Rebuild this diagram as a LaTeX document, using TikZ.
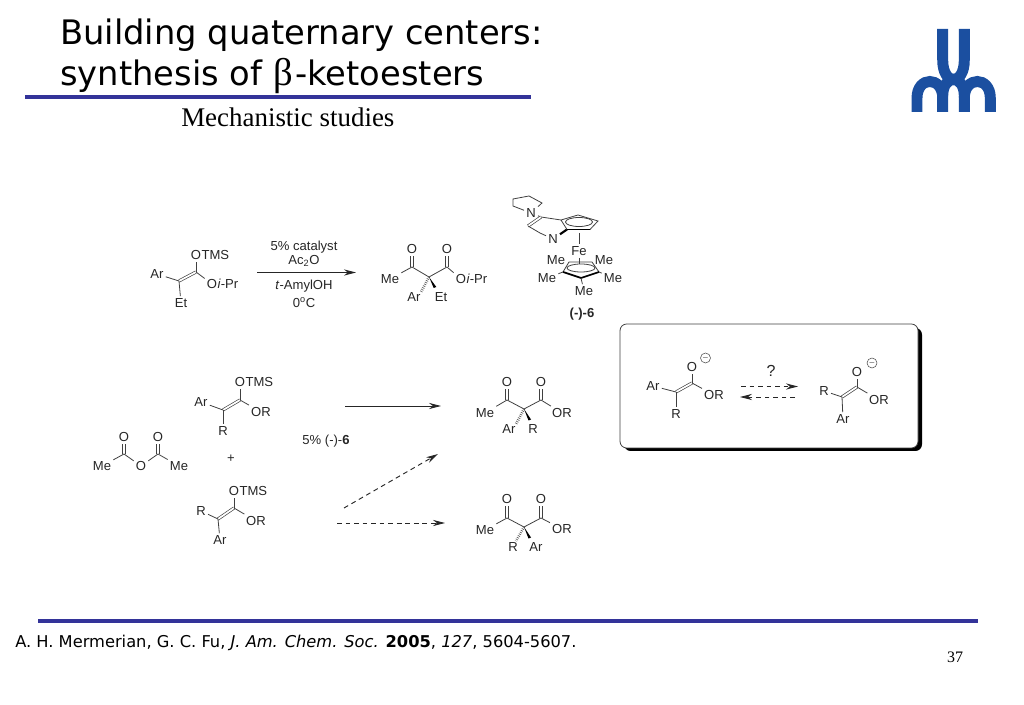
\documentclass[tikz,border=0pt]{standalone}
\usepackage{fontspec}
\setmainfont{Liberation Sans}
\newfontfamily\titlefont{DejaVu Sans}
\newfontfamily\timesfont{Liberation Serif}
\usetikzlibrary{arrows.meta, positioning}

\definecolor{rulecol}{HTML}{333399}
\definecolor{logocol}{HTML}{1B4FA0}
\tikzset{
  atom/.style={inner sep=1.5pt, font=\fontsize{9.8}{11}\selectfont, text=black!85},
  cond/.style={inner sep=0pt, font=\fontsize{9.8}{11}\selectfont, text=black!85},
  bond/.style={line width=0.6pt, black!75},
  dbond/.style={double, double distance=1.3pt, line width=0.5pt, black!75},
  wedgeb/.style={fill=black},
  hashb/.style={line width=2pt, black!65, dash pattern=on 0.5pt off 1pt},
  ring/.style={line width=0.6pt, black!75},
  rxn/.style={->, line width=0.7pt, black!85},
  rxndash/.style={->, line width=0.7pt, black!85, dash pattern=on 3.6pt off 2.8pt},
  charge/.style={circle, draw=black!70, line width=0.4pt, minimum size=7.5pt, inner sep=0pt, font=\tiny},
  rulebar/.style={line width=2.3pt, rulecol},
  logostroke/.style={line width=8.2pt, logocol}
}

\begin{document}
\begin{tikzpicture}[x=0.75pt, y=-0.75pt, >={Stealth[length=9pt,width=4.6pt]}]
\useasboundingbox (0,0) rectangle (1024,705);

% Heading
\node[anchor=base west, inner sep=0pt, font=\titlefont\fontsize{25.3}{30}\selectfont] (headA) at (60,45) {Building quaternary centers:};
\node[anchor=base west, inner sep=0pt, font=\titlefont\fontsize{25.3}{30}\selectfont] (headB) at (60,86) {synthesis of {\timesfont\fontsize{29}{30}\selectfont β}\hspace{2pt}-ketoesters};
\node[anchor=base west, inner sep=0pt, font=\timesfont\fontsize{20.2}{24}\selectfont] (subhead) at (181,127) {Mechanistic studies};
\draw[rulebar] (25,97) -- (531,97);
\draw[rulebar] (38,621) -- (978,621);

% Logo
\draw[logostroke] (942.7,29) -- (942.7,60) .. controls (942.7,86) and (964.3,86) .. (964.3,60) -- (964.3,29);
\draw[logostroke] (917,112) -- (917,98) .. controls (917,76) and (942.7,76) .. (942.7,98) -- (942.7,112);
\draw[logostroke] (942.7,96) .. controls (942.7,74) and (964.3,74) .. (964.3,96) -- (964.3,112);
\draw[logostroke] (964.3,98) .. controls (964.3,76) and (990.3,76) .. (990.3,98) -- (990.3,112);

% Citation and page number
\node[anchor=base west, inner sep=0pt, font=\titlefont\fontsize{12.2}{15}\selectfont] (cite) at (15,647)
  {A. H. Mermerian, G. C. Fu, \textit{J. Am. Chem. Soc.} \textbf{2005}, \textit{127}, 5604-5607.};
\node[font=\timesfont\fontsize{12}{14}\selectfont] (pagenum) at (955,657) {37};

% Enol ether, top reaction
\coordinate (ca1) at (179,281);
\coordinate (ca2) at (196,272);
\node[atom] (oa) at (196,255) {O};
\node[atom, right=-3pt of oa] (tmsa) {TMS};
\node[atom] (ara) at (157,274) {Ar};
\node[atom] (oaa) at (212,284) {O};
\node[atom, right=-3pt of oaa] (ipra) {\textit{i}-Pr};
\node[atom] (eta) at (181,303) {Et};
\draw[dbond] (ca1) -- (ca2);
\draw[bond] (ca2) -- (oa);
\draw[bond] (ca2) -- (oaa);
\draw[bond] (ca1) -- (ara);
\draw[bond] (ca1) -- (eta);

% Top reaction arrow and conditions
\coordinate (arrowAs) at (257,272.5);
\coordinate (arrowAe) at (356,272.5);
\draw[rxn] (arrowAs) -- (arrowAe);
\node[cond] (condA) at (304,247) {5\% catalyst};
\node[cond] (condB) at (304,261) {Ac\textsubscript{2}O};
\node[cond] (condC) at (304,286.5) {\textit{t}-AmylOH};
\node[cond] (condD) at (304,303) {0\textsuperscript{o}C};

% Top product
\coordinate (pa1) at (412,267);
\coordinate (pa2) at (429,277);
\coordinate (pa3) at (447,267);
\node[atom] (opa1) at (412,249) {O};
\node[atom] (opa2) at (447,249) {O};
\node[atom] (mepa) at (390,279) {Me};
\node[atom] (opa3) at (461,279) {O};
\node[atom, right=-3pt of opa3] (iprb) {\textit{i}-Pr};
\node[atom] (arpa) at (414,297) {Ar};
\node[atom] (etpa) at (441,297) {Et};
\draw[dbond] (pa1) -- (opa1);
\draw[dbond] (pa3) -- (opa2);
\draw[bond] (mepa) -- (pa1) -- (pa2) -- (pa3) -- (opa3);
\draw[hashb] (pa2) -- (421,292);
\fill[wedgeb] (pa2) -- (436.3,287) -- (433.7,288) -- cycle;

% Catalyst (-)-6
\node[atom] (npyr) at (531,213) {N};
\node[atom] (npy) at (553,239) {N};
\node[atom] (fe) at (579,251) {Fe};
\draw[ring] (npyr) -- (542,203) -- (529,196) -- (513,199) -- (513,206) -- (npyr);
\draw[ring] (npyr) -- (541,217);
\draw[dbond] (541,217) -- (528,226);
\draw[ring] (528,226) -- (540,233) -- (npy);
\draw[ring] (541,217) -- (561,220);
\draw[line width=1.6pt, black] (npy) -- (567,229.5);
\draw[ring] (561,220) -- (567,229.5) -- (590,229.5) -- (598,221) -- (578,215) -- (561,220);
\draw[line width=1.2pt, black] (567,229.5) -- (590,229.5);
\draw[ring] (579,222) ellipse (13.5 and 4.5);
\draw[bond] (579,233) -- (fe);
\draw[bond] (fe) -- (579,264);
\node[atom] (mec1) at (556,260) {Me};
\node[atom] (mec2) at (604,260) {Me};
\node[atom] (mec3) at (547,278) {Me};
\node[atom] (mec4) at (613,278) {Me};
\node[atom] (mec5) at (584,291) {Me};
\draw[ring] (563,272) -- (569,262) -- (592,262) -- (599,272);
\draw[line width=1.3pt, black] (563,272) -- (581,278) -- (599,272);
\draw[ring] (581,268) ellipse (14 and 4);
\draw[ring] (563,272) -- (mec3);
\draw[ring] (599,272) -- (mec4);
\draw[ring] (581,278) -- (mec5);
\node[cond] (catlabel) at (582,314) {\textbf{(-)-6}};

% Mechanism box
\fill[black, rounded corners=5] (624,328) rectangle (922,451);
\draw[fill=white, draw=black!75, line width=0.6pt, rounded corners=5] (620,324) rectangle (918,448);

% Enolate left
\coordinate (cb1) at (676,392);
\coordinate (cb2) at (692,383);
\node[atom] (ob) at (692,367) {O};
\node[charge] (chb) at (705.5,358) {$-$};
\node[atom] (arb) at (653,386) {Ar};
\node[atom] (orb) at (714,395) {OR};
\node[atom] (rb) at (676,414) {R};
\draw[dbond] (cb1) -- (cb2);
\draw[bond] (cb2) -- (ob);
\draw[bond] (cb2) -- (orb);
\draw[bond] (cb1) -- (arb);
\draw[bond] (cb1) -- (rb);

% Equilibrium arrows
\node[atom, font=\fontsize{12}{14}\selectfont] (quest) at (771,371) {?};
\coordinate (eqAs) at (741,386.5);
\coordinate (eqAe) at (798,386.5);
\coordinate (eqBs) at (795,397);
\coordinate (eqBe) at (740,397);
\draw[rxndash] (eqAs) -- (eqAe);
\draw[rxndash] (eqBs) -- (eqBe);

% Enolate right
\coordinate (cc1) at (842,397);
\coordinate (cc2) at (857,387);
\node[atom] (oc) at (857,372) {O};
\node[charge] (chc) at (872,363) {$-$};
\node[atom] (rc) at (824,391) {R};
\node[atom] (orc) at (879,400) {OR};
\node[atom] (arc) at (843,419) {Ar};
\draw[dbond] (cc1) -- (cc2);
\draw[bond] (cc2) -- (oc);
\draw[bond] (cc2) -- (orc);
\draw[bond] (cc1) -- (rc);
\draw[bond] (cc1) -- (arc);

% Acetic anhydride
\coordinate (ac1) at (124,454);
\coordinate (ac2) at (158,454);
\node[atom] (oac1) at (124,437) {O};
\node[atom] (oac2) at (158,437) {O};
\node[atom] (oac3) at (141,466) {O};
\node[atom] (meac1) at (102,466) {Me};
\node[atom] (meac2) at (179,466) {Me};
\draw[dbond] (ac1) -- (oac1);
\draw[dbond] (ac2) -- (oac2);
\draw[bond] (meac1) -- (ac1) -- (oac3) -- (ac2) -- (meac2);

% Enol ether, upper
\coordinate (cd1) at (223,410);
\coordinate (cd2) at (240,400);
\node[atom] (od) at (240,382.5) {O};
\node[atom, right=-3pt of od] (tmsd) {TMS};
\node[atom] (ard) at (201,402) {Ar};
\node[atom] (ord) at (261,412) {OR};
\node[atom] (rd) at (223,431) {R};
\draw[dbond] (cd1) -- (cd2);
\draw[bond] (cd2) -- (od);
\draw[bond] (cd2) -- (ord);
\draw[bond] (cd1) -- (ard);
\draw[bond] (cd1) -- (rd);

\node[atom] (plus) at (231,459) {+};

% Enol ether, lower
\coordinate (ce1) at (218,519);
\coordinate (ce2) at (234,508);
\node[atom] (oe) at (234,491) {O};
\node[atom, right=-3pt of oe] (tmse) {TMS};
\node[atom] (re) at (201,511) {R};
\node[atom] (ore) at (256,521) {OR};
\node[atom] (are) at (220,540) {Ar};
\draw[dbond] (ce1) -- (ce2);
\draw[bond] (ce2) -- (oe);
\draw[bond] (ce2) -- (ore);
\draw[bond] (ce1) -- (re);
\draw[bond] (ce1) -- (are);

% Reaction arrows
\node[cond] (catuse) at (326,441) {5\% (-)-\textbf{6}};
\coordinate (ra1) at (345,406);
\coordinate (ra2) at (441,406);
\coordinate (rb1) at (344,508);
\coordinate (rb2) at (438,454);
\coordinate (rc1) at (337,523);
\coordinate (rc2) at (445,523);
\draw[rxn] (ra1) -- (ra2);
\draw[rxndash] (rb1) -- (rb2);
\draw[rxndash] (rc1) -- (rc2);

% Product, Ar hashed
\coordinate (pb1) at (507,400);
\coordinate (pb2) at (524,409);
\coordinate (pb3) at (541,400);
\node[atom] (opb1) at (507,382.5) {O};
\node[atom] (opb2) at (541,382.5) {O};
\node[atom] (mepb) at (485,413) {Me};
\node[atom] (orpb) at (562,413) {OR};
\node[atom] (arpb) at (509,429) {Ar};
\node[atom] (rpb) at (533,429) {R};
\draw[dbond] (pb1) -- (opb1);
\draw[dbond] (pb3) -- (opb2);
\draw[bond] (mepb) -- (pb1) -- (pb2) -- (pb3) -- (orpb);
\draw[hashb] (pb2) -- (516,424);
\fill[wedgeb] (pb2) -- (531,419.5) -- (528.5,420.5) -- cycle;

% Product, R hashed
\coordinate (pc1) at (507,518);
\coordinate (pc2) at (524,527);
\coordinate (pc3) at (541,518);
\node[atom] (opc1) at (507,499.5) {O};
\node[atom] (opc2) at (541,499.5) {O};
\node[atom] (mepc) at (485,530) {Me};
\node[atom] (orpc) at (562,529) {OR};
\node[atom] (rpc) at (513,547) {R};
\node[atom] (arpc) at (536,547) {Ar};
\draw[dbond] (pc1) -- (opc1);
\draw[dbond] (pc3) -- (opc2);
\draw[bond] (mepc) -- (pc1) -- (pc2) -- (pc3) -- (orpc);
\draw[hashb] (pc2) -- (516,541);
\fill[wedgeb] (pc2) -- (531,537.5) -- (528.5,538.5) -- cycle;

\end{tikzpicture}
\end{document}
